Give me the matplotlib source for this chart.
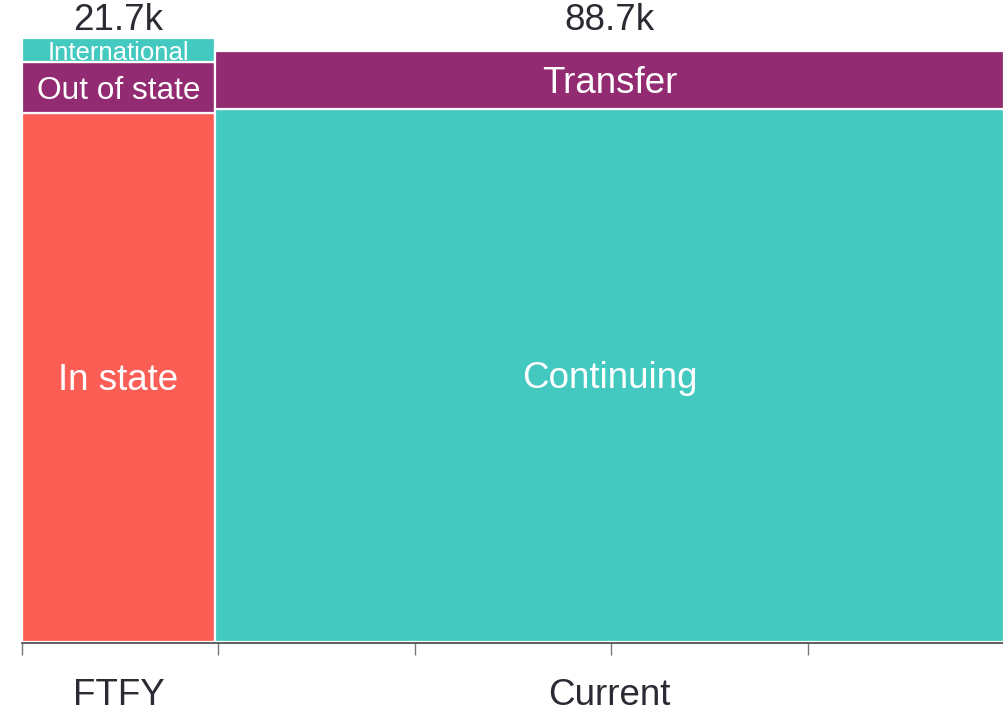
import matplotlib
matplotlib.use("Agg")
import matplotlib.pyplot as plt
import numpy as np

plt.rcParams['font.family'] = ['Liberation Sans', 'DejaVu Sans']

# Data
groups = ["FTFY", "Current"]
totals = [21.7, 88.7]            # thousands
total_labels = ["21.7k", "88.7k"]
ftfy_segments = ["In state", "Out of state", "International"]
ftfy_values = [87.6, 8.5, 3.9]   # percent of column height
current_segments = ["Continuing", "Transfer"]
current_values = [88.3, 9.5]

seg_colors = {
    "In state": "#FB5E55",
    "Out of state": "#922B71",
    "International": "#44C9C1",
    "Continuing": "#44C9C1",
    "Transfer": "#922B71",
}
seg_fontsize = {
    "In state": 26.5,
    "Out of state": 22.8,
    "International": 18.5,
    "Continuing": 26.5,
    "Transfer": 26.5,
}

fig = plt.figure(figsize=(10.04, 7.13), dpi=100)
ax = fig.add_axes([22/1004, 71/713, 982/1004, 604/713])

widths = np.array(totals) / np.sum(totals)
lefts = np.concatenate([[0], np.cumsum(widths)[:-1]])

columns = [(ftfy_segments, ftfy_values), (current_segments, current_values)]
for i, (segs, vals) in enumerate(columns):
    bottom = 0.0
    for s, v in zip(segs, vals):
        ax.bar(lefts[i], v, width=widths[i], bottom=bottom, align='edge',
               color=seg_colors[s], edgecolor='white', linewidth=1.6)
        ax.annotate(s, (lefts[i] + widths[i] / 2, bottom + v / 2),
                    xytext=(0, -2.5), textcoords='offset points',
                    ha='center', va='center', color='white',
                    fontsize=seg_fontsize[s])
        bottom += v
    # totals on top
    ax.annotate(total_labels[i], (lefts[i] + widths[i] / 2, 1.033),
                xycoords=ax.get_xaxis_transform(),
                xytext=(0, -1.5), textcoords='offset points',
                ha='center', va='center', fontsize=26.5, color='#2b2b33')
    # category labels
    ax.annotate(groups[i], (lefts[i] + widths[i] / 2, -0.082),
                xycoords=ax.get_xaxis_transform(),
                xytext=(0, -3), textcoords='offset points',
                ha='center', va='center', fontsize=26.5, color='#2b2b33')

ax.set_xlim(0, 1)
ax.set_ylim(0, 100)
for sp in ['top', 'right', 'left']:
    ax.spines[sp].set_visible(False)
ax.spines['bottom'].set_color('#444444')
ax.spines['bottom'].set_linewidth(1.2)
ax.spines['bottom'].set_position(('outward', 1))
ax.set_yticks([])
ax.set_xticks([0, 0.2, 0.4, 0.6, 0.8, 1.0])
ax.set_xticklabels([])
ax.tick_params(axis='x', length=8.5, width=1, color='#777777')

fig.savefig("out.png", dpi=100, facecolor='white')
